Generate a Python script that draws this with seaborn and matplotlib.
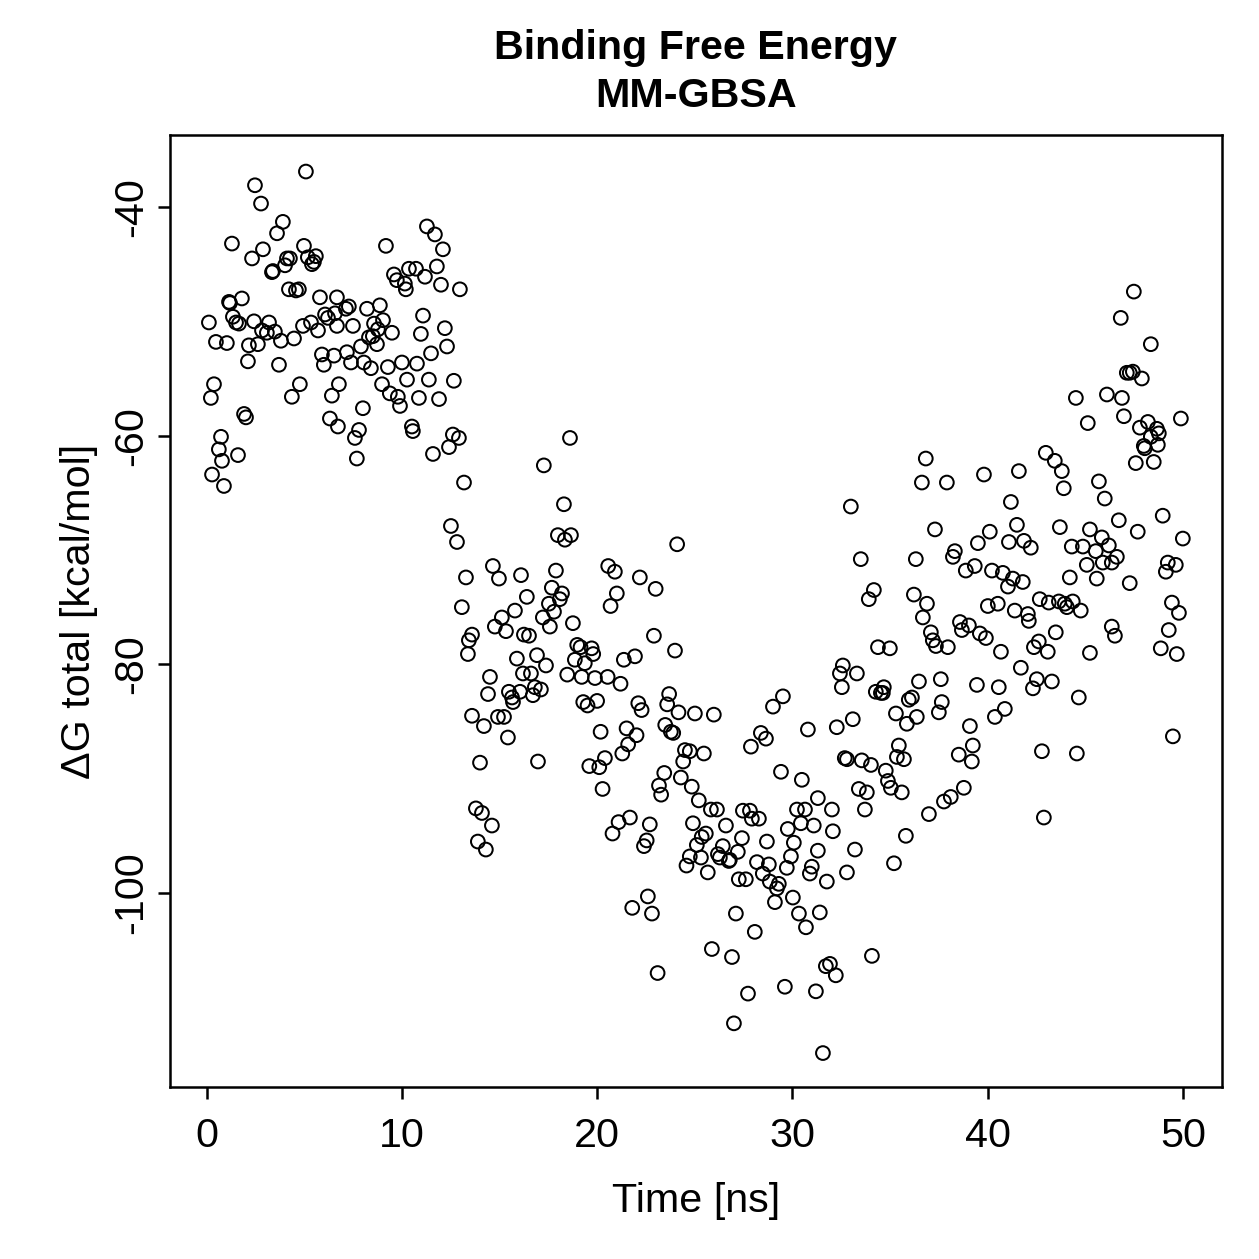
import matplotlib
matplotlib.use("Agg")
import matplotlib.pyplot as plt
import pandas as pd
import seaborn as sns

# MM-GBSA binding free energy per frame
time_ns = [
    # 0 - 7 ns
    5.07, 2.46, 2.77, 3.89, 3.59, 1.28, 2.87, 2.31, 4.97, 4.10,
    4.25, 4.00, 5.17, 5.58, 5.38, 5.48, 3.33, 3.38, 4.20, 4.56,
    4.71, 5.79, 6.66, 1.13, 1.18, 1.79, 0.10, 1.33, 1.49, 1.64,
    2.41, 3.18, 3.07, 2.82, 3.48, 4.92, 5.33, 5.69, 6.05, 6.20,
    6.56, 6.66, 0.46, 1.02, 2.15, 2.61, 3.79, 4.46, 2.10, 3.69,
    5.89, 6.51, 5.99, 0.36, 0.20, 4.76, 4.35, 6.40, 6.76, 1.90,
    2.00, 6.30, 6.71, 0.72, 0.61, 0.77, 1.59, 0.26, 0.87,
    # 7 - 13 ns
    11.27, 11.68, 12.09, 9.17, 9.58, 9.73, 10.35, 10.71, 10.14, 10.19,
    11.17, 11.78, 11.99, 12.96, 7.12, 7.27, 7.48, 8.20, 8.86, 8.56,
    9.02, 8.76, 9.48, 8.30, 8.50, 7.89, 8.71, 11.07, 10.96, 12.19,
    12.30, 11.48, 7.17, 7.38, 8.04, 8.40, 9.27, 9.99, 10.76, 8.97,
    9.37, 9.78, 9.89, 10.25, 11.37, 10.86, 11.89, 12.65, 7.99, 7.79,
    7.58, 7.68, 10.50, 10.55, 12.60, 12.91, 12.40, 11.58, 13.17,
    # 12 - 19 ns
    18.60, 17.26, 18.29, 12.50, 12.81, 17.98, 18.65, 18.34, 14.65, 13.27,
    14.96, 16.09, 17.88, 17.67, 18.19, 18.08, 17.52, 17.78, 17.21, 17.57,
    16.39, 13.06, 15.78, 15.11, 14.75, 15.32, 18.75, 16.24, 16.50, 13.58,
    13.42, 13.37, 15.88, 16.91, 17.37, 16.19, 16.60, 14.50, 14.40, 15.47,
    15.63, 15.68, 16.04, 16.70, 16.80, 17.11, 13.58, 14.19, 14.91, 15.22,
    15.42, 13.99, 16.96, 13.78, 14.09, 14.60, 13.88, 14.29,
    # 18 - 25 ns
    24.09, 20.56, 20.90, 22.18, 22.99, 21.00, 20.68, 22.90, 23.98, 18.97,
    19.14, 19.71, 19.79, 18.85, 19.36, 18.46, 19.20, 19.88, 20.53, 21.19,
    21.36, 21.93, 19.28, 19.50, 19.99, 22.10, 22.27, 23.68, 23.58, 24.16,
    20.17, 21.50, 22.01, 21.58, 21.28, 23.48, 23.77, 23.89, 24.49, 24.40,
    20.39, 19.59, 20.10, 20.27, 23.43, 23.16, 23.27, 24.28, 21.67, 21.09,
    20.78, 22.69, 22.53, 22.39, 24.57, 22.59, 21.79, 22.80, 23.09,
    # 24 - 33 ns
    32.53, 29.51, 29.00, 25.00, 25.97, 28.38, 28.64, 27.87, 30.79, 32.27,
    24.74, 25.46, 29.41, 30.48, 24.84, 25.20, 25.82, 26.13, 27.46, 27.82,
    27.92, 28.28, 26.59, 30.23, 30.64, 31.30, 32.02, 29.76, 30.43, 31.09,
    32.07, 24.90, 25.56, 25.35, 25.10, 27.41, 28.69, 30.07, 24.74, 25.31,
    26.43, 26.18, 26.28, 26.74, 26.79, 27.20, 29.92, 31.30, 25.66, 28.18,
    28.79, 29.71, 28.48, 30.99, 30.89, 31.76, 32.79, 27.25, 27.61, 28.84,
    29.30, 29.20, 29.10, 30.02, 30.33, 30.69, 31.40, 27.10, 28.07, 25.87,
    26.90, 31.71, 31.92, 32.22, 27.72, 29.61, 31.20, 27.00, 31.56,
    # 32 - 40 ns
    36.63, 37.91, 36.83, 32.99, 37.30, 33.50, 36.32, 38.32, 38.22, 38.88,
    39.50, 39.34, 34.17, 33.91, 36.22, 36.89, 36.68, 38.58, 39.04, 38.68,
    39.60, 37.09, 37.19, 37.35, 37.96, 34.38, 34.99, 32.58, 32.43, 33.30,
    34.27, 34.53, 34.68, 34.63, 36.48, 37.60, 36.12, 35.96, 37.65, 37.50,
    35.30, 35.86, 36.37, 33.09, 39.09, 39.45, 35.45, 35.35, 35.71, 38.52,
    39.24, 39.19, 32.68, 32.79, 33.55, 34.02, 34.78, 34.89, 35.04, 35.60,
    33.40, 33.81, 33.71, 38.78, 38.11, 37.76, 36.99, 33.20, 35.81, 35.20,
    34.07,
    # 40 - 45 ns
    44.52, 45.13, 42.98, 43.44, 43.80, 43.90, 39.81, 41.60, 41.19, 41.50,
    43.70, 45.24, 40.11, 41.09, 41.86, 42.21, 44.31, 44.88, 45.08, 44.21,
    40.22, 40.78, 41.29, 41.04, 41.80, 42.67, 43.13, 43.65, 43.95, 44.06,
    44.36, 44.77, 40.01, 40.52, 41.39, 42.06, 42.11, 39.91, 40.68, 42.62,
    42.37, 43.08, 43.49, 45.24, 41.70, 40.57, 42.52, 42.32, 43.29, 44.67,
    40.88, 40.37, 42.78, 44.57, 42.88,
    # 45 - 50 ns
    47.49, 46.82, 48.36, 47.13, 47.28, 47.44, 47.90, 46.11, 46.88, 46.98,
    47.80, 48.21, 48.67, 48.77, 48.36, 48.72, 48.00, 48.05, 49.90, 47.59,
    48.51, 45.70, 46.00, 46.72, 48.97, 47.69, 50.00, 45.85, 45.54, 46.21,
    46.62, 46.36, 45.90, 45.59, 47.28, 49.23, 49.64, 49.13, 49.44, 49.80,
    46.36, 46.52, 49.28, 48.87, 49.69, 49.49,
]

dg_total = [
    # 0 - 7 ns
    -36.9, -38.1, -39.7, -41.3, -42.3, -43.2, -43.7, -44.5, -43.4, -44.5,
    -44.5, -45.1, -44.4, -44.3, -45.0, -44.8, -45.7, -45.6, -47.2, -47.3,
    -47.2, -47.9, -47.9, -48.3, -48.4, -48.0, -50.1, -49.6, -50.1, -50.2,
    -50.0, -50.1, -51.0, -50.8, -50.9, -50.4, -50.1, -50.8, -49.4, -49.7,
    -49.3, -50.4, -51.8, -51.9, -52.1, -52.0, -51.7, -51.5, -53.5, -53.8,
    -52.9, -53.0, -53.8, -55.5, -56.7, -55.5, -56.6, -56.5, -55.5, -58.1,
    -58.4, -58.5, -59.2, -60.1, -61.2, -62.2, -61.7, -63.4, -64.4,
    # 7 - 13 ns
    -41.7, -42.4, -43.7, -43.4, -45.9, -46.4, -45.4, -45.4, -46.7, -47.2,
    -46.1, -45.2, -46.8, -47.2, -48.9, -48.7, -50.4, -48.9, -48.6, -50.2,
    -49.9, -50.7, -51.0, -51.4, -51.3, -52.2, -52.0, -49.5, -51.1, -50.6,
    -52.2, -52.8, -52.7, -53.6, -53.6, -54.1, -54.0, -53.6, -53.7, -55.5,
    -56.3, -56.6, -57.4, -55.1, -55.1, -56.7, -56.8, -55.2, -57.6, -59.5,
    -60.2, -62.0, -59.2, -59.6, -59.9, -60.2, -61.0, -61.6, -64.1,
    # 12 - 19 ns
    -60.2, -62.6, -66.0, -67.9, -69.3, -68.7, -68.7, -69.1, -71.4, -72.4,
    -72.5, -72.2, -71.8, -73.3, -73.8, -74.3, -74.7, -75.4, -75.9, -76.7,
    -74.1, -75.0, -75.3, -75.9, -76.7, -77.1, -76.4, -77.4, -77.5, -77.4,
    -77.9, -79.1, -79.5, -79.2, -80.1, -80.8, -80.8, -81.1, -82.6, -82.4,
    -82.9, -83.3, -82.4, -82.7, -82.0, -82.2, -84.5, -85.4, -84.6, -84.6,
    -86.4, -88.6, -88.5, -92.6, -93.0, -94.1, -95.5, -96.2,
    # 18 - 25 ns
    -69.5, -71.4, -71.9, -72.4, -73.4, -73.8, -74.9, -77.5, -78.8, -78.3,
    -78.5, -78.6, -79.1, -79.6, -79.9, -80.9, -81.1, -81.2, -81.1, -81.7,
    -79.6, -79.3, -83.3, -83.6, -83.2, -83.4, -84.0, -82.6, -83.5, -84.2,
    -85.9, -85.6, -86.2, -87.0, -87.8, -85.3, -85.9, -86.0, -87.5, -88.5,
    -88.2, -88.9, -89.0, -90.9, -89.5, -90.6, -91.4, -89.9, -93.4, -93.8,
    -94.8, -94.0, -95.4, -95.9, -97.6, -100.3, -101.3, -101.8, -107.0,
    # 24 - 33 ns
    -82.0, -82.8, -83.7, -84.3, -84.4, -86.0, -86.5, -87.2, -85.7, -85.5,
    -87.6, -87.8, -89.4, -90.1, -90.7, -91.9, -92.7, -92.7, -92.8, -92.8,
    -93.5, -93.5, -94.1, -92.7, -92.7, -91.7, -92.7, -94.4, -93.9, -94.1,
    -94.6, -93.9, -94.8, -95.1, -95.8, -95.2, -95.5, -95.6, -96.8, -96.9,
    -95.9, -96.6, -96.9, -97.2, -97.1, -96.4, -96.8, -96.3, -98.2, -97.3,
    -97.5, -97.8, -98.3, -97.7, -98.3, -99.0, -98.2, -98.8, -98.8, -99.0,
    -99.2, -99.6, -100.8, -100.4, -101.8, -103.0, -101.7, -101.8, -103.4, -104.9,
    -105.6, -106.4, -106.2, -107.2, -108.8, -108.2, -108.6, -111.4, -114.0,
    # 32 - 40 ns
    -64.1, -64.1, -62.0, -66.2, -68.2, -70.8, -70.8, -70.1, -70.6, -71.8,
    -69.4, -71.4, -73.5, -74.3, -73.9, -74.7, -75.9, -76.3, -76.6, -77.0,
    -77.3, -77.2, -77.9, -78.4, -78.5, -78.5, -78.6, -80.1, -80.8, -80.8,
    -82.4, -82.5, -82.0, -82.5, -81.5, -81.3, -82.9, -83.1, -83.3, -84.2,
    -84.3, -85.2, -84.6, -84.8, -85.4, -81.8, -87.1, -88.1, -88.3, -87.9,
    -87.1, -88.5, -88.2, -88.3, -88.4, -88.8, -89.3, -90.2, -90.8, -91.2,
    -90.9, -91.2, -92.7, -90.8, -91.6, -92.0, -93.1, -96.2, -95.0, -97.4,
    -105.5,
    # 40 - 45 ns
    -56.7, -58.9, -61.5, -62.2, -63.1, -64.6, -63.4, -63.1, -65.8, -67.8,
    -68.0, -68.2, -68.4, -69.3, -69.2, -69.8, -69.7, -69.7, -71.3, -72.4,
    -71.8, -72.0, -72.5, -73.2, -72.8, -74.3, -74.6, -74.5, -74.7, -75.0,
    -74.5, -75.3, -74.9, -74.7, -75.3, -75.6, -76.2, -77.7, -78.9, -78.0,
    -78.5, -78.9, -77.2, -79.0, -80.3, -82.0, -81.3, -82.1, -81.5, -82.9,
    -83.9, -84.6, -87.6, -87.8, -93.4,
    # 45 - 50 ns
    -47.4, -49.7, -52.0, -54.5, -54.5, -54.4, -55.0, -56.4, -56.7, -58.3,
    -59.3, -58.8, -59.4, -59.8, -60.1, -60.8, -60.9, -61.1, -58.5, -62.4,
    -62.3, -64.0, -65.5, -67.4, -67.0, -68.4, -69.0, -68.9, -70.1, -69.6,
    -70.6, -71.1, -71.1, -72.5, -72.9, -71.1, -71.3, -71.9, -74.6, -75.5,
    -76.7, -77.5, -77.0, -78.6, -79.1, -86.3,
]

x_ticks = [0, 10, 20, 30, 40, 50]
y_ticks = [-40, -60, -80, -100]

sns.set_theme(style="ticks")
plt.rcParams["font.family"] = ["Liberation Sans", "DejaVu Sans"]
plt.rcParams["text.color"] = "black"
plt.rcParams["axes.labelcolor"] = "black"

df = pd.DataFrame({"time": time_ns, "dg": dg_total})

fig = plt.figure(figsize=(1259 / 180, 1259 / 180), dpi=180)
ax = fig.add_axes([0.135, 0.1366, 0.8355, 0.7562])

sns.scatterplot(
    data=df, x="time", y="dg", ax=ax,
    marker="o", s=30, facecolors="none", edgecolor="black", linewidth=0.8,
)

fs = 16.5
ax.set_xlim(-1.895, 52.0)
ax.set_ylim(-116.97, -33.70)
ax.set_xticks(x_ticks)
ax.set_yticks(y_ticks)
ax.set_yticklabels([str(v) for v in y_ticks], rotation=90, va="center")
ax.tick_params(direction="out", length=4.8, width=1.0, labelsize=fs,
               colors="black")
ax.tick_params(axis="x", pad=7)
ax.tick_params(axis="y", pad=3)
for side in ax.spines.values():
    side.set_visible(True)
    side.set_linewidth(1.0)
    side.set_color("black")

ax.set_xlabel("Time [ns]", fontsize=fs)
ax.set_ylabel("ΔG total [kcal/mol]", fontsize=fs)
ax.xaxis.set_label_coords(0.5, -0.1)
ax.yaxis.set_label_coords(-0.068, 0.5)
ax.set_title("Binding Free Energy\nMM-GBSA", fontsize=fs, fontweight="bold",
             linespacing=1.36, pad=11)

fig.savefig("out.png", dpi=180)
